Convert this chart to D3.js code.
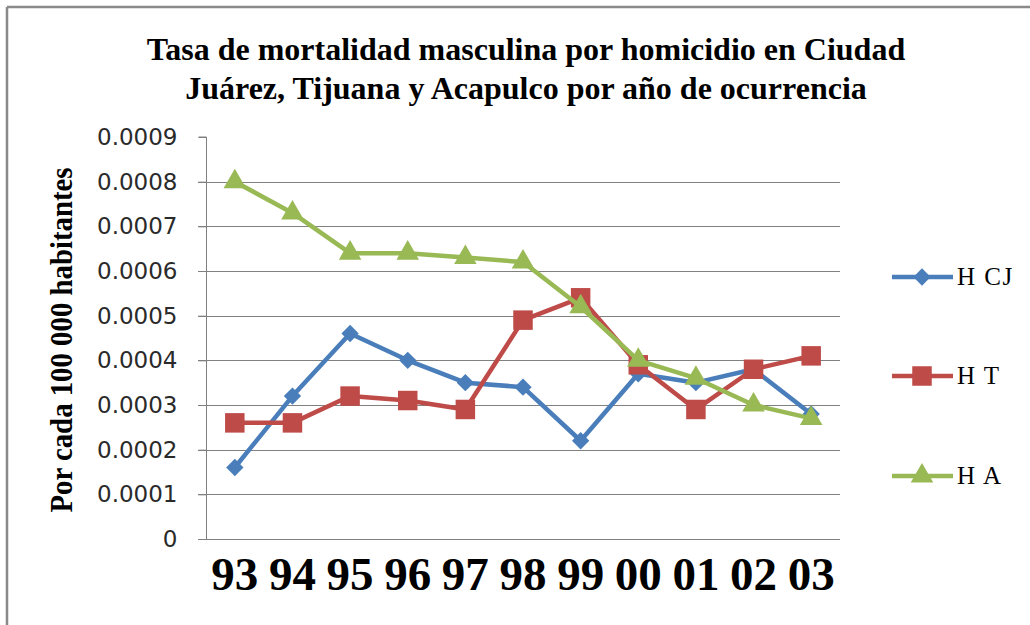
<!DOCTYPE html>
<html>
<head>
<meta charset="utf-8">
<script src="https://cdn.jsdelivr.net/npm/d3@7"></script>
<style>
  html, body { margin: 0; padding: 0; background: #fff; }
  svg { display: block; }
</style>
</head>
<body>
<svg id="chart" width="1030" height="625"></svg>
<script>
const categories = ["93", "94", "95", "96", "97", "98", "99", "00", "01", "02", "03"];
const seriesNames = ["H CJ", "H T", "H A"];
const valuesCJ = [0.00016, 0.00032, 0.00046, 0.00040, 0.00035, 0.00034, 0.00022, 0.00037, 0.00035, 0.00038, 0.00028];
const valuesT  = [0.00026, 0.00026, 0.00032, 0.00031, 0.00029, 0.00049, 0.00054, 0.00039, 0.00029, 0.00038, 0.00041];
const valuesA  = [0.00080, 0.00073, 0.00064, 0.00064, 0.00063, 0.00062, 0.00052, 0.00040, 0.00036, 0.00030, 0.00027];
const yTicks = [0, 0.0001, 0.0002, 0.0003, 0.0004, 0.0005, 0.0006, 0.0007, 0.0008, 0.0009];
const yTickLabels = ["0", "0.0001", "0.0002", "0.0003", "0.0004", "0.0005", "0.0006", "0.0007", "0.0008", "0.0009"];
const titleLines = ["Tasa de mortalidad masculina por homicidio en Ciudad", "Juárez, Tijuana y Acapulco por año de ocurrencia"];
const yAxisTitle = "Por cada 100 000 habitantes";

const colors = ["#4A7EBB", "#BE4B48", "#98B954"];
const symbols = [d3.symbolSquare, d3.symbolSquare, d3.symbolTriangle];
const symSizes = [150, 380, 220];
const symRotate = [45, 0, 0];

const svg = d3.select("#chart");

// frame
svg.append("line").attr("x1", 7).attr("x2", 1030).attr("y1", 7).attr("y2", 7)
  .attr("stroke", "#8a8a8a").attr("stroke-width", 2.5);
svg.append("line").attr("x1", 7).attr("x2", 7).attr("y1", 7).attr("y2", 625)
  .attr("stroke", "#8a8a8a").attr("stroke-width", 2.5);

const pLeft = 206, pRight = 840, pTop = 137, pBottom = 539;
const x = d3.scaleBand().domain(categories).range([pLeft, pRight]);
const y = d3.scaleLinear().domain([0, 0.0009]).range([pBottom, pTop]);

// gridlines
svg.append("g").selectAll("line").data(yTicks.filter(t => t > 0 && t < 0.0009)).join("line")
  .attr("x1", pLeft - 8).attr("x2", pRight)
  .attr("y1", d => Math.round(y(d)) + 0.5).attr("y2", d => Math.round(y(d)) + 0.5)
  .attr("stroke", "#808080").attr("stroke-width", 1);

// y axis
const yAxis = d3.axisLeft(y).tickValues(yTicks).tickSize(8)
  .tickFormat((d, i) => yTickLabels[i]);
const gy = svg.append("g").attr("transform", `translate(${pLeft + 0.5},0)`).call(yAxis);
gy.select(".domain").attr("stroke", "#808080").attr("d", `M-8,${pTop}H0V${pBottom}`);
gy.selectAll(".tick line").attr("stroke", "#808080");
gy.selectAll(".tick text")
  .attr("x", -29)
  .attr("font-family", "'DejaVu Sans', sans-serif")
  .attr("font-size", 23)
  .attr("fill", "#2a2a2a");

// x axis baseline
svg.append("line").attr("x1", pLeft - 8).attr("x2", pRight)
  .attr("y1", pBottom + 0.5).attr("y2", pBottom + 0.5)
  .attr("stroke", "#808080").attr("stroke-width", 1);

// x labels
const xAxis = d3.axisBottom(x).tickSize(0);
const gx = svg.append("g").attr("transform", `translate(0,${pBottom})`).call(xAxis);
gx.select(".domain").remove();
gx.selectAll(".tick text")
  .attr("y", 51).attr("dy", 0)
  .attr("font-family", "'Liberation Serif', serif")
  .attr("font-weight", "bold")
  .attr("font-size", 47)
  .attr("fill", "#000");

// series
const allSeries = [valuesCJ, valuesT, valuesA];
const line = d3.line().x((d, i) => x(categories[i]) + x.bandwidth() / 2).y(d => y(d));
allSeries.forEach((vals, s) => {
  const g = svg.append("g");
  g.append("path").attr("d", line(vals)).attr("fill", "none")
    .attr("stroke", colors[s]).attr("stroke-width", 4.5).attr("stroke-linejoin", "round");
  g.selectAll("path.m").data(vals).join("path").attr("class", "m")
    .attr("transform", (d, i) => `translate(${x(categories[i]) + x.bandwidth() / 2},${y(d)}) rotate(${symRotate[s]})`)
    .attr("d", d3.symbol().type(symbols[s]).size(symSizes[s]))
    .attr("fill", colors[s]);
});

// title
svg.append("g").selectAll("text").data(titleLines).join("text")
  .attr("x", 526).attr("y", (d, i) => 60 + i * 39)
  .attr("text-anchor", "middle")
  .attr("font-family", "'Liberation Serif', serif")
  .attr("font-weight", "bold")
  .attr("font-size", 32)
  .attr("fill", "#000")
  .text(d => d);

// y axis title
svg.append("text")
  .attr("transform", "translate(72,340) rotate(-90)")
  .attr("text-anchor", "middle")
  .attr("font-family", "'Liberation Serif', serif")
  .attr("font-weight", "bold")
  .attr("font-size", 31)
  .attr("textLength", 345)
  .attr("lengthAdjust", "spacingAndGlyphs")
  .attr("fill", "#000")
  .text(yAxisTitle);

// legend
const legendY = [277, 376, 476];
const lg = svg.append("g");
seriesNames.forEach((name, s) => {
  lg.append("line").attr("x1", 892).attr("x2", 953).attr("y1", legendY[s]).attr("y2", legendY[s])
    .attr("stroke", colors[s]).attr("stroke-width", 4.5);
  lg.append("path").attr("transform", `translate(922,${legendY[s]}) rotate(${symRotate[s]})`)
    .attr("d", d3.symbol().type(symbols[s]).size(symSizes[s])).attr("fill", colors[s]);
  lg.append("text").attr("x", 957).attr("y", legendY[s] + 8)
    .attr("font-family", "'Liberation Serif', serif")
    .attr("font-size", 25)
    .attr("letter-spacing", 1.5)
    .attr("fill", "#000")
    .text(name);
});
</script>
</body>
</html>
